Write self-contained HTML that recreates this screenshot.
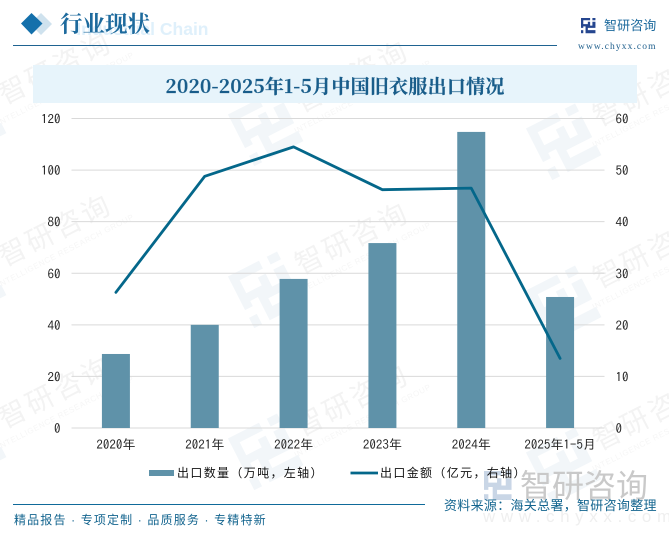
<!DOCTYPE html>
<html lang="zh">
<head>
<meta charset="utf-8">
<title>2020-2025年1-5月中国旧衣服出口情况</title>
<style>
html,body{margin:0;padding:0;background:#fff;}
svg{display:block;}
text{font-family:"Liberation Sans","Noto Sans CJK SC",sans-serif;}
.serif{font-family:"Liberation Serif","Noto Serif CJK SC",serif;}
.title{font-family:"Noto Serif CJK SC",serif;}
.tick{font-family:"IPAGothic","WenQuanYi Zen Hei",monospace;}
</style>
</head>
<body>
<svg id="chart" xmlns="http://www.w3.org/2000/svg" width="669" height="535" viewBox="0 0 669 535">
  <rect x="0" y="0" width="669" height="535" fill="#ffffff"/>
  <defs>
    <g id="logo-mark">
      <path d="M0 0H12V3H3V8H9V5H12V11H3V13H0Z" />
      <path d="M0 16H3V20H0Z"/>
      <path d="M15 0H19V3H15Z"/>
      <path d="M15 5H19V13H9V16H19V20H6V10H15Z"/>
    </g>
  </defs>
  <g id="watermarks"></g>

  <path d="M41 13 L52 24 L41 35 L30 24Z" fill="#cfe2ee"/>
  <path d="M31.500 13 L42.500 23.500 L31.500 34.500 L21 23.500Z" fill="#1470ab"/>
  <text x="208.500" y="35" text-anchor="end" font-size="17.500" font-weight="700" fill="#dff0fb">Industrial Chain</text>
  <text class="serif" x="60" y="32" font-size="22.500" font-weight="700" fill="#1d6a9d">行业现状</text>
  <line x1="13" y1="45.500" x2="557" y2="45.500" stroke="#1f6391" stroke-width="1"/>

  <g>
    <use href="#logo-mark" transform="translate(581,18) scale(0.76)" fill="#25468f"/>
    <text x="604" y="30" font-size="13" letter-spacing="0.100" fill="#1d6a9d">智研咨询</text>
    <text class="serif" x="578" y="49" font-size="9.500" letter-spacing="1.100" fill="#23628f">www.chyxx.com</text>
  </g>

  <rect x="33" y="65" width="604" height="38" fill="#e5f3fb" fill-opacity="0.93"/>
  <text class="title" x="335" y="93" text-anchor="middle" font-size="19" font-weight="700" letter-spacing="0.250" stroke="#195d8a" stroke-width="0.200" fill="#195d8a">2020-2025年1-5月中国旧衣服出口情况</text>

  <g id="grid"></g>
  <g id="bars"></g>
  <g id="line-layer"></g>
  <g id="axis-left"></g>
  <g id="axis-right"></g>
  <g id="axis-x"></g>

  <g>
    <use href="#logo-mark" transform="translate(484,471) scale(1.450)" fill="#c9d6e6"/>
    <text x="520" y="497" font-size="32" fill="#c9c9c9">智研咨询</text>
    <text x="483" y="522" font-size="17" letter-spacing="5.600" fill="#efefef">www.chyxx.com</text>
  </g>

  <g>
    <g>
      <rect x="149" y="470" width="25" height="6" fill="#5f92a9"/>
      <text x="177" y="477" font-size="12" letter-spacing="1.350" fill="#111111">出口数量（万吨，左轴）</text>
    </g>
    <g>
      <line x1="350.500" y1="473" x2="378" y2="473" stroke="#04678a" stroke-width="2.800"/>
      <text x="380" y="477" font-size="12" letter-spacing="1.350" fill="#111111">出口金额（亿元，右轴）</text>
    </g>
  </g>

  <line x1="13" y1="504.500" x2="425" y2="504.500" stroke="#0f6a9a" stroke-width="1"/>
  <text x="14" y="524" font-size="12" letter-spacing="1.150" fill="#14658f">精品报告 · 专项定制 · 品质服务 · 专精特新</text>
  <text x="444" y="510" font-size="13" letter-spacing="0.300" fill="#14658f">资料来源：海关总署，智研咨询整理</text>
</svg>
<script>
var categories = ["2020年", "2021年", "2022年", "2023年", "2024年", "2025年1-5月"];
var volumeValues = [28.7, 40, 57.8, 71.7, 114.8, 50.8];
var amountValues = [26.3, 48.8, 54.5, 46.2, 46.5, 13.5];
var leftTicks = [0, 20, 40, 60, 80, 100, 120];
var rightTicks = [0, 10, 20, 30, 40, 50, 60];

var SVGNS = "http://www.w3.org/2000/svg";
var plotLeft = 71.5, plotRight = 604.5, plotTop = 118.5, plotBottom = 428;
var leftMax = 120, rightMax = 60, barWidth = 28;

function make(tag, attrs, parent, content) {
  var el = document.createElementNS(SVGNS, tag);
  for (var k in attrs) { el.setAttribute(k, attrs[k]); }
  if (content !== undefined) { el.textContent = content; }
  parent.appendChild(el);
  return el;
}
function xPos(i) { return plotLeft + (plotRight - plotLeft) * (i + 0.5) / categories.length; }
function yLeft(v) { return plotBottom - (plotBottom - plotTop) * v / leftMax; }
function yRight(v) { return plotBottom - (plotBottom - plotTop) * v / rightMax; }

var wmLayer = document.getElementById("watermarks");
var wmColumns = [55, 352, 650];
var wmRows = [68, 230, 392];
wmColumns.forEach(function (cx, c) {
  wmRows.forEach(function (cy, r) {
    var yy = cy + (c === 1 ? 8 : (c === 2 ? 22 : 0));
    var g = make("g", { transform: "translate(" + cx + "," + yy + ") rotate(-27)" }, wmLayer);
    
    
    var t = make("text", { x: 0, y: 10, "text-anchor": "middle", "font-size": 28, "letter-spacing": 3, fill: "#f3f3f3" }, g, "智研咨询");
    
    
    var s = make("text", { x: 0, y: 26, "text-anchor": "middle", "font-size": 8, "letter-spacing": 0.6, fill: "#f6f6f6" }, g, "INTELLIGENCE RESEARCH GROUP");
    
    
    var u = make("use", { href: "#logo-mark", transform: "translate(-128,-22) scale(2.900)", fill: "#f2f6f9" }, g);
    
    
  });
});

var gridLayer = document.getElementById("grid");
var leftLayer = document.getElementById("axis-left");
var rightLayer = document.getElementById("axis-right");
var xLayer = document.getElementById("axis-x");
var barLayer = document.getElementById("bars");
var lineLayer = document.getElementById("line-layer");

leftTicks.forEach(function (v) {
  var gy = yLeft(v);
  var gl = make("line", { x1: plotLeft, x2: plotRight, y1: gy, y2: gy, stroke: "#d9d9d9", "stroke-width": 1 }, gridLayer);
  
  
  var lt = make("text", { class: "tick", x: 60.5, y: gy + 5, "text-anchor": "end", "font-size": 13, fill: "#262626" }, leftLayer, String(v));
  
  
});

rightTicks.forEach(function (v) {
  var rt = make("text", { class: "tick", x: 615.5, y: yRight(v) + 5, "font-size": 13, fill: "#262626" }, rightLayer, String(v));
  
  
});

categories.forEach(function (c, i) {
  var ct = make("text", { class: "tick", x: xPos(i), y: 449, "text-anchor": "middle", "font-size": 13, fill: "#262626" }, xLayer, c);
  
  
});

volumeValues.forEach(function (v, i) {
  var top = yLeft(v);
  var b = make("rect", { x: xPos(i) - barWidth / 2, y: top, width: barWidth, height: plotBottom - top, fill: "#5f92a9" }, barLayer);
  
  
});

var linePoints = amountValues.map(function (v, i) { return xPos(i) + "," + yRight(v); }).join(" ");
var amountLine = make("polyline", { points: linePoints, fill: "none", stroke: "#04678a", "stroke-width": 2.800, "stroke-linejoin": "round", "stroke-linecap": "round" }, lineLayer);


</script>
</body>
</html>
